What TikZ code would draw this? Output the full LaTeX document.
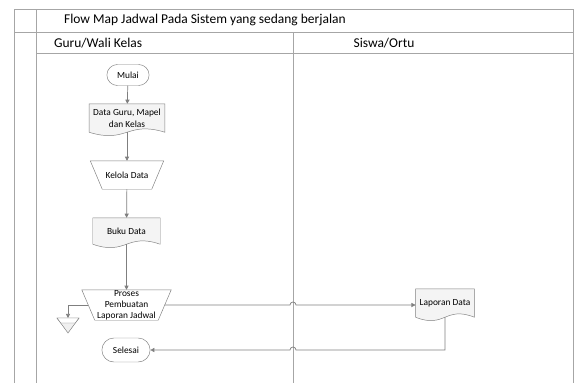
\documentclass[tikz,border=0pt]{standalone}
\usepackage{fontspec}
\setmainfont{Carlito}
\usepackage{tikz}
\usetikzlibrary{arrows.meta, positioning, shapes.geometric, shapes.misc, backgrounds}

\definecolor{lanegray}{HTML}{A6A6A6}
\definecolor{shapegray}{HTML}{7F7F7F}
\definecolor{docfill}{HTML}{F4F4F4}

\tikzset{
  lane/.style={draw=lanegray, line width=0.6pt},
  terminal/.style={rounded rectangle, draw=shapegray, fill=white, font=\fontsize{8}{10}\selectfont},
  docbox/.style={rectangle, align=center, font=\fontsize{8}{10}\selectfont},
  manop/.style={rectangle, align=center, inner ysep=0pt, font=\fontsize{8}{9.5}\selectfont},
  flow/.style={draw=shapegray, line width=0.6pt, -{Triangle[length=3.5pt,width=3.5pt]}}
}

% wavy document outline round a named node
\newcommand{\docoutline}[1]{%
  \begin{scope}[on background layer]
    \draw[draw=shapegray, fill=docfill] (#1.north west) -- (#1.north east) -- (#1.south east)
      .. controls ([yshift=10pt]#1.south) and ([yshift=-10pt]#1.south) .. (#1.south west) -- cycle;
  \end{scope}}

% manual operation outline (wide top) round a named node
\newcommand{\manoutline}[2]{%
  \begin{scope}[on background layer]
    \draw[draw=shapegray, fill=white] ([xshift=-#2]#1.north west) -- ([xshift=#2]#1.north east)
      -- ([xshift=-#2]#1.south east) -- ([xshift=#2]#1.south west) -- cycle;
  \end{scope}}

\begin{document}
\begin{tikzpicture}[x=0.03cm, y=-0.03cm]
    \useasboundingbox (0,0) rectangle (577,383);

    % Swimlane frame
    \draw[lane] (14,383) -- (14,9) -- (573,9) -- (573,383);
    \draw[lane] (36,9) -- (36,383);
    \draw[lane] (14,32) -- (573,32);
    \draw[lane] (36,53) -- (573,53);
    \draw[lane] (293,32) -- (293,383);

    \node[anchor=west, font=\fontsize{11.5}{13}\selectfont] (title) at (60,20) {Flow Map Jadwal Pada Sistem yang sedang berjalan};
    \node[anchor=west, font=\fontsize{11.5}{13}\selectfont] (guru) at (50,43) {Guru/Wali Kelas};
    \node[font=\fontsize{11.5}{13}\selectfont] (siswa) at (384,43) {Siswa/Ortu};

    % Guru/Wali Kelas lane
    \node[terminal, minimum width=1.5cm, minimum height=0.63cm] (mulai) at (128,75) {Mulai};
    \node[docbox, minimum width=2.04cm, minimum height=0.84cm] (datagmk) at (127,118) {Data Guru, Mapel\\dan Kelas};
    \docoutline{datagmk}
    \node[manop, minimum width=1.83cm, minimum height=0.84cm] (kelola) at (127,175) {Kelola Data};
    \manoutline{kelola}{0.18cm}
    \node[docbox, minimum width=2.01cm, minimum height=0.78cm] (buku) at (126.5,231) {Buku Data};
    \docoutline{buku}
    \node[manop, minimum width=2.28cm, minimum height=0.9cm] (proses) at (126.5,305) {Proses\\Pembuatan\\Laporan Jadwal};
    \manoutline{proses}{0.195cm}
    \node[terminal, minimum width=1.68cm, minimum height=0.72cm] (selesai) at (126,350) {Selesai};

    % Storage
    \draw[draw=shapegray, fill=gray!12] (57,318) -- (79,318) -- (68,333) -- cycle;
    \draw[draw=shapegray, fill=white] (57,318) -- (79,318) -- (75.3,323) -- (60.7,323) -- cycle;
    \coordinate (store) at (68,318);

    % Siswa/Ortu lane
    \node[docbox, minimum width=1.68cm, minimum height=0.84cm] (lapor) at (445,303) {Laporan Data};
    \docoutline{lapor}

    % Flow
    \draw[flow] (mulai) -- (datagmk);
    \draw[flow] (datagmk) -- (kelola);
    \draw[flow] (kelola) -- (buku);
    \draw[flow] (buku) -- (proses);
    \draw[flow] (proses.west) -| (store);
    \coordinate (hopa) at (290,305);
    \draw[flow] (proses.east) -- (hopa) arc[start angle=180, end angle=0, radius=0.09cm] -- (proses.east -| lapor.west);
    \coordinate (hopb) at (296,350);
    \draw[flow] (lapor.south) -- (lapor.south |- hopb) -- (hopb) arc[start angle=0, end angle=180, radius=0.09cm] -- (selesai.east);
\end{tikzpicture}
\end{document}
